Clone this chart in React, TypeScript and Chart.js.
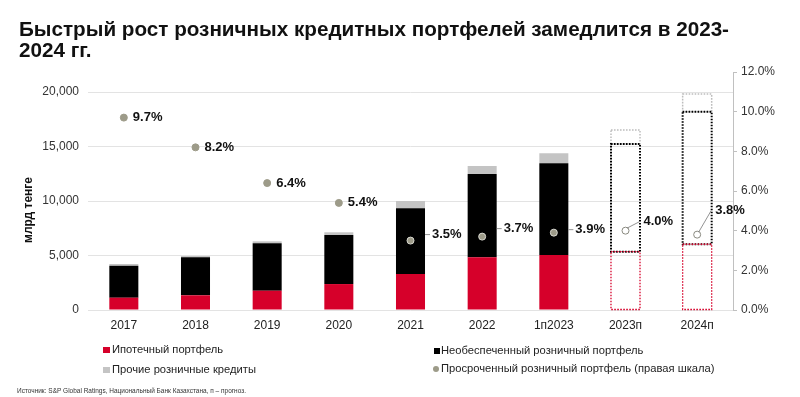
import React, { useEffect, useRef } from 'react';
import { Chart, registerables } from 'chart.js';

Chart.register(...registerables);

// ---------- data ----------
const categories = ['2017', '2018', '2019', '2020', '2021', '2022', '1п2023', '2023п', '2024п'];
const mortgage = [1130, 1350, 1770, 2380, 3300, 4830, 5050, 5350, 6030];
const unsecured = [2940, 3480, 4350, 4500, 6030, 7650, 8410, 9880, 12160];
const otherRetail = [150, 120, 180, 250, 670, 730, 920, 1280, 1620];
const overdueShare = [9.7, 8.2, 6.4, 5.4, 3.5, 3.7, 3.9, 4.0, 3.8];
const forecastFlags = [false, false, false, false, false, false, false, true, true];
const leftTicks = [0, 5000, 10000, 15000, 20000];
const rightTicks = [0, 2, 4, 6, 8, 10, 12];

const titleLines = ['Быстрый рост розничных кредитных портфелей замедлится в 2023-', '2024 гг.'];
const yTitle = 'млрд тенге';
const seriesNames = [
  'Ипотечный портфель',
  'Необеспеченный розничный портфель',
  'Прочие розничные кредиты',
  'Просроченный розничный портфель (правая шкала)',
];
const sourceNote = 'Источник: S&P Global Ratings, Национальный Банк Казахстана, п – прогноз.';

// ---------- styles ----------
const FONT = "'Liberation Sans', Arial, Helvetica, sans-serif";
const RED = '#d6002a';
const BLACK = '#000000';
const GREY = '#c4c4c4';
const DOT = '#9d9b89';
const labelLift = [0, 0, 0, 0, 6, 8, 3, 9, 24];

Chart.defaults.font.family = FONT;

const decorPlugin = {
  id: 'decor',
  afterDatasetDraw(chart: any, args: any) {
    const ds: any = chart.data.datasets[args.index];
    if (ds.type !== 'bar') return;
    const c = chart.ctx;
    c.save();
    args.meta.data.forEach((el: any, j: number) => {
      if (!forecastFlags[j]) return;
      const p = el.getProps(['x', 'y', 'base', 'width'], true);
      c.strokeStyle = ds.outlineColor;
      c.lineWidth = ds.outlineWidth;
      c.setLineDash([1.6, 1.4]);
      c.strokeRect(p.x - p.width / 2, p.y, p.width, p.base - p.y);
    });
    c.restore();
  },
  afterDatasetsDraw(chart: any) {
    const c = chart.ctx;
    const lineMeta = chart.getDatasetMeta(3);
    const topMeta = chart.getDatasetMeta(2);
    c.save();
    c.font = `bold 13px ${FONT}`;
    c.fillStyle = '#111';
    c.textBaseline = 'middle';
    c.textAlign = 'left';
    c.strokeStyle = '#777';
    c.lineWidth = 0.8;
    lineMeta.data.forEach((pt: any, j: number) => {
      const { x, y } = pt.getProps(['x', 'y'], true);
      const bar = topMeta.data[j].getProps(['x', 'y', 'width'], true);
      const half = bar.width / 2;
      const txt = overdueShare[j].toFixed(1) + '%';
      const ly = y - labelLift[j];
      if (forecastFlags[j]) {
        const tx = x + 18;
        c.beginPath();
        c.moveTo(x + 1.5, y - 2.5);
        c.lineTo(tx - 4, ly);
        c.stroke();
        c.fillText(txt, tx, ly);
      } else if (y > bar.y) {
        const bx = x + half;
        c.beginPath();
        c.moveTo(bx, ly);
        c.lineTo(bx + 5, ly);
        c.stroke();
        c.fillText(txt, bx + 7, ly);
      } else {
        c.fillText(txt, x + 9, y);
      }
    });
    c.restore();
  },
  afterDraw(chart: any) {
    const c = chart.ctx;
    c.save();
    // title
    c.fillStyle = '#111';
    c.textBaseline = 'alphabetic';
    c.textAlign = 'left';
    c.font = `bold 21px ${FONT}`;
    const w = c.measureText(titleLines[0]).width;
    const sx = 710 / w;
    c.save();
    c.translate(19, 35.5);
    c.scale(sx, 1);
    c.fillText(titleLines[0], 0, 0);
    c.fillText(titleLines[1], 0, 21.5);
    c.restore();

    // y axis title
    c.save();
    c.font = `bold 12px ${FONT}`;
    c.fillStyle = '#111';
    c.textAlign = 'center';
    c.textBaseline = 'middle';
    c.translate(29, 210);
    c.rotate(-Math.PI / 2);
    c.fillText(yTitle, 0, 0);
    c.restore();

    // legend
    c.font = `11.2px ${FONT}`;
    c.textBaseline = 'middle';
    const items = [
      { x: 103, y: 350, kind: 'sq', color: RED, w: 7, h: 6, tx: 112 },
      { x: 434, y: 351, kind: 'sq', color: BLACK, w: 6, h: 6, tx: 441 },
      { x: 103, y: 370, kind: 'sq', color: GREY, w: 7, h: 6, tx: 112 },
      { x: 436, y: 369, kind: 'dot', color: DOT, w: 6, h: 6, tx: 441 },
    ];
    items.forEach((it, i) => {
      c.fillStyle = it.color;
      if (it.kind === 'sq') {
        c.fillRect(it.x, it.y - it.h / 2, it.w, it.h);
      } else {
        c.beginPath();
        c.arc(it.x, it.y, 3, 0, Math.PI * 2);
        c.fill();
      }
      c.fillStyle = '#222';
      c.fillText(seriesNames[i], it.tx, it.y);
    });

    // source
    c.font = `7px ${FONT}`;
    const sw = c.measureText(sourceNote).width;
    c.save();
    c.translate(17, 391);
    c.scale(229 / sw, 1);
    c.fillStyle = '#333';
    c.fillText(sourceNote, 0, 0);
    c.restore();

    c.restore();
  },
};

const isF = (ctx: any) => forecastFlags[ctx.dataIndex];

const App = () => {
  const ref = useRef<HTMLCanvasElement>(null);
  useEffect(() => {
    const canvas = ref.current!;
    const chart = new Chart(canvas, {
      data: {
        labels: categories,
        datasets: [
          {
            type: 'bar',
            label: seriesNames[0],
            data: mortgage,
            backgroundColor: (ctx: any) => (isF(ctx) ? 'rgba(0,0,0,0)' : RED),
            stack: 's',
            yAxisID: 'y',
            order: 1,
            categoryPercentage: 1,
            barPercentage: 0.405,
            outlineColor: RED,
            outlineWidth: 1.3,
          } as any,
          {
            type: 'bar',
            label: seriesNames[1],
            data: unsecured,
            backgroundColor: (ctx: any) => (isF(ctx) ? 'rgba(0,0,0,0)' : BLACK),
            stack: 's',
            yAxisID: 'y',
            order: 1,
            categoryPercentage: 1,
            barPercentage: 0.405,
            outlineColor: BLACK,
            outlineWidth: 2,
          } as any,
          {
            type: 'bar',
            label: seriesNames[2],
            data: otherRetail,
            backgroundColor: (ctx: any) => (isF(ctx) ? 'rgba(0,0,0,0)' : GREY),
            stack: 's',
            yAxisID: 'y',
            order: 1,
            categoryPercentage: 1,
            barPercentage: 0.405,
            outlineColor: '#bdbdbd',
            outlineWidth: 1.5,
          } as any,
          {
            type: 'line',
            label: seriesNames[3],
            data: overdueShare,
            yAxisID: 'y1',
            showLine: false,
            order: 0,
            pointRadius: 3.5,
            pointBorderWidth: 1,
            pointBackgroundColor: (ctx: any) => (isF(ctx) ? '#ffffff' : DOT),
            pointBorderColor: (ctx: any) => (isF(ctx) ? '#8a8a80' : ctx.dataIndex >= 4 ? '#d8d8d0' : DOT),
          } as any,
        ],
      },
      options: {
        responsive: false,
        animation: false,
        devicePixelRatio: 1,
        layout: { padding: { top: 72, left: 0, right: 0, bottom: 0 } },
        plugins: {
          legend: { display: false },
          title: { display: false },
          tooltip: { enabled: false },
        },
        scales: {
          x: {
            stacked: true,
            grid: { display: false, drawTicks: false },
            border: { display: false },
            ticks: { color: '#222', font: { size: 12 }, padding: 8, maxRotation: 0, autoSkip: false },
            afterFit: (s: any) => {
              s.height = 87;
            },
          },
          y: {
            stacked: true,
            position: 'left',
            min: 0,
            max: 21835,
            afterBuildTicks: (s: any) => {
              s.ticks = leftTicks.map((v) => ({ value: v }));
            },
            grid: { color: '#e3e3e3', drawTicks: false },
            border: { display: false },
            ticks: {
              padding: 9,
              color: '#333',
              font: { size: 12 },
              callback: (v: any) => Number(v).toLocaleString('en-US'),
            },
            afterFit: (s: any) => {
              s.width = 88;
            },
          },
          y1: {
            position: 'right',
            min: 0,
            max: 12,
            afterBuildTicks: (s: any) => {
              s.ticks = rightTicks.map((v) => ({ value: v }));
            },
            grid: { drawOnChartArea: false, drawTicks: true, tickLength: 4, color: '#c0c0c0' },
            border: { display: true, color: '#c0c0c0' },
            ticks: {
              padding: 4,
              color: '#333',
              font: { size: 12 },
              callback: (v: any) => Number(v).toFixed(1) + '%',
            },
            afterFit: (s: any) => {
              s.width = 67;
            },
          },
        },
      } as any,
      plugins: [decorPlugin],
    });
    return () => chart.destroy();
  }, []);

  return (
    <div style={{ position: 'fixed', left: 0, top: 0, width: 800, height: 397, background: '#fff' }}>
      <canvas ref={ref} width={800} height={397} style={{ display: 'block', width: 800, height: 397 }} />
    </div>
  );
};

export default App;
